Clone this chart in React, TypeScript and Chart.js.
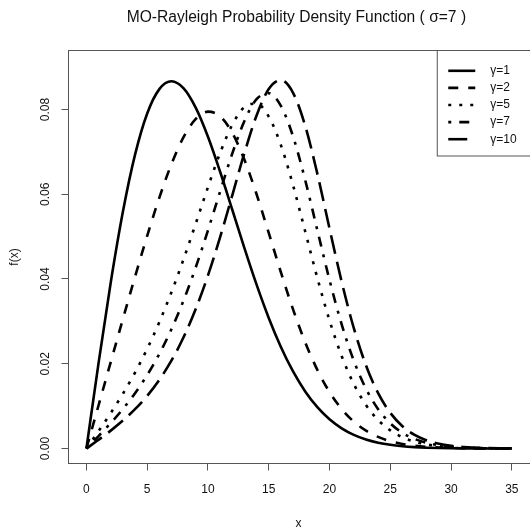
import React, { useEffect, useRef } from "react";
import { Chart, registerables } from "chart.js";

Chart.register(...registerables);

const TITLE = "MO-Rayleigh Probability Density Function ( σ=7 )";
const X_TITLE = "x";
const Y_TITLE = "f(x)";

const X_VALUES = [
  0, 1, 2, 3, 4, 5, 6, 7, 8, 9, 10, 11, 12, 13, 14, 15, 16, 17, 18, 19, 20, 21,
  22, 23, 24, 25, 26, 27, 28, 29, 30, 31, 32, 33, 34, 35,
];

const GAMMA_1 = [
  0, 0.020201, 0.039184, 0.055852, 0.069336, 0.079065, 0.084805, 0.086647,
  0.084972, 0.080369, 0.073561, 0.06531, 0.056343, 0.047295, 0.038667, 0.030817,
  0.023958, 0.018177, 0.013466, 0.009745, 0.00689, 0.004761, 0.003216, 0.002124,
  0.001372, 0.000867, 0.000536, 0.000324, 0.000192, 0.000111, 0.000063, 0.000035,
  0.000019, 0.00001, 0.000005, 0.000003,
];
const GAMMA_2 = [
  0, 0.010204, 0.0204, 0.030548, 0.040546, 0.0502, 0.059205, 0.067144, 0.073513,
  0.077779, 0.07949, 0.07838, 0.074476, 0.068133, 0.059996, 0.050875, 0.041589,
  0.032824, 0.025061, 0.018546, 0.013326, 0.009314, 0.006341, 0.00421, 0.002729,
  0.001728, 0.00107, 0.000647, 0.000384, 0.000222, 0.000126, 0.00007, 0.000038,
  0.00002, 0.00001, 0.000005,
];
const GAMMA_5 = [
  0, 0.004107, 0.008363, 0.012921, 0.017928, 0.023525, 0.02983, 0.036908,
  0.044734, 0.053127, 0.061688, 0.069752, 0.076399, 0.080583, 0.081379, 0.078315,
  0.071598, 0.06212, 0.051211, 0.040231, 0.03023, 0.021823, 0.015197, 0.010246,
  0.006709, 0.004277, 0.002658, 0.001612, 0.000957, 0.000554, 0.000314, 0.000174,
  0.000095, 0.00005, 0.000026, 0.000013,
];
const GAMMA_7 = [
  0, 0.002937, 0.006002, 0.009329, 0.01306, 0.017343, 0.022335, 0.028182,
  0.034995, 0.042803, 0.051479, 0.060649, 0.069605, 0.077294, 0.082436, 0.083844,
  0.080852, 0.073653, 0.063336, 0.05151, 0.039767, 0.029292, 0.020695, 0.014092,
  0.009289, 0.005947, 0.003707, 0.002252, 0.001339, 0.000775, 0.00044, 0.000244,
  0.000132, 0.00007, 0.000036, 0.000018,
];
const GAMMA_10 = [
  0, 0.002058, 0.004217, 0.006584, 0.009279, 0.012436, 0.01621, 0.020771, 0.0263,
  0.032959, 0.04084, 0.049885, 0.059758, 0.069728, 0.078598, 0.084827, 0.086908,
  0.083942, 0.076135, 0.064815, 0.051925, 0.039348, 0.028383, 0.01961, 0.013053,
  0.008411, 0.005264, 0.003206, 0.001908, 0.001106, 0.000628, 0.000349, 0.000189,
  0.0001, 0.000052, 0.000026,
];

const SERIES_LABELS = ["γ=1", "γ=2", "γ=5", "γ=7", "γ=10"];
const SERIES_VALUES = [GAMMA_1, GAMMA_2, GAMMA_5, GAMMA_7, GAMMA_10];
const SERIES_DASHES = [[], [10, 10], [3, 8], [3, 8, 10, 8], [19, 8]];

const X_TICKS = [0, 5, 10, 15, 20, 25, 30, 35];
const Y_TICKS = [0, 0.02, 0.04, 0.06, 0.08];

const FONT_FAMILY = '"Liberation Sans", Arial, Helvetica, sans-serif';
const TEXT_COLOR = "#111";
const AXIS_COLOR = "#555";

const decorPlugin = {
  id: "decor",
  afterDraw(chart: any) {
    const { ctx, chartArea } = chart;
    const { left, top, right, bottom } = chartArea;
    ctx.save();
    // plot box (right side lies outside the picture)
    ctx.strokeStyle = AXIS_COLOR;
    ctx.lineWidth = 1;
    ctx.setLineDash([]);
    ctx.strokeRect(left, top, right - left + 6, bottom - top);

    // title
    ctx.fillStyle = TEXT_COLOR;
    ctx.font = `15.6px ${FONT_FAMILY}`;
    ctx.textAlign = "center";
    ctx.textBaseline = "middle";
    ctx.fillText(TITLE, (left + right) / 2 - 2, 18);

    // legend
    const lx = right - 91;
    ctx.strokeStyle = AXIS_COLOR;
    ctx.lineWidth = 1;
    ctx.strokeRect(lx, top, right - lx + 6, 105.5);
    ctx.font = `12px ${FONT_FAMILY}`;
    ctx.textAlign = "left";
    ctx.textBaseline = "middle";
    chart.data.datasets.forEach((ds: any, i: number) => {
      const y = top + 20.3 + i * 17.1;
      ctx.save();
      ctx.strokeStyle = ds.borderColor;
      ctx.lineWidth = ds.borderWidth;
      ctx.lineCap = "butt";
      ctx.setLineDash(ds.borderDash || []);
      ctx.beginPath();
      ctx.moveTo(lx + 11, y);
      ctx.lineTo(lx + 38, y);
      ctx.stroke();
      ctx.restore();
      ctx.fillStyle = TEXT_COLOR;
      ctx.fillText(ds.label, lx + 53, y);
    });
    ctx.restore();
  },
};

export default function App() {
  const canvasRef = useRef<HTMLCanvasElement | null>(null);

  useEffect(() => {
    const canvas = canvasRef.current;
    if (!canvas) return;
    Chart.defaults.font.family = FONT_FAMILY;
    const datasets = SERIES_LABELS.map((label, k) => ({
      label,
      data: X_VALUES.map((x, i) => ({ x, y: SERIES_VALUES[k][i] })),
      borderColor: "#000",
      backgroundColor: "#000",
      borderWidth: 2.6,
      borderDash: SERIES_DASHES[k],
      borderCapStyle: "butt" as const,
      borderJoinStyle: "round" as const,
      pointRadius: 0,
      cubicInterpolationMode: "monotone" as const,
      fill: false,
    }));

    const chart = new Chart(canvas, {
      type: "line",
      data: { datasets },
      options: {
        responsive: false,
        animation: false,
        events: [],
        layout: { padding: { top: 50.5, right: 0, left: 0, bottom: 0 } },
        plugins: {
          legend: { display: false },
          tooltip: { enabled: false },
          title: { display: false },
        },
        scales: {
          x: {
            type: "linear",
            min: -1.475,
            max: 36.352,
            afterBuildTicks: (s: any) => {
              s.ticks = X_TICKS.map((v) => ({ value: v }));
            },
            afterFit: (s: any) => {
              s.height = 67.5;
            },
            grid: {
              drawOnChartArea: false,
              drawTicks: true,
              tickLength: 7,
              color: AXIS_COLOR,
              lineWidth: 1,
            },
            border: { display: false },
            ticks: {
              color: TEXT_COLOR,
              font: { size: 12, family: FONT_FAMILY },
              padding: 11.5,
              maxRotation: 0,
              minRotation: 0,
              autoSkip: false,
              callback: (v: any) => String(v),
            },
            title: {
              display: true,
              text: X_TITLE,
              color: TEXT_COLOR,
              font: { size: 12, family: FONT_FAMILY },
              padding: { top: 0, bottom: 0 },
            },
          },
          y: {
            type: "linear",
            min: -0.00354,
            max: 0.09392,
            afterBuildTicks: (s: any) => {
              s.ticks = Y_TICKS.map((v) => ({ value: v }));
            },
            afterFit: (s: any) => {
              s.width = 68.5;
            },
            grid: {
              drawOnChartArea: false,
              drawTicks: true,
              tickLength: 7,
              color: AXIS_COLOR,
              lineWidth: 1,
            },
            border: { display: false },
            ticks: {
              color: TEXT_COLOR,
              font: { size: 12, family: FONT_FAMILY },
              padding: 4.2,
              minRotation: 90,
              maxRotation: 90,
              crossAlign: "center",
              autoSkip: false,
              callback: (v: any) => Number(v).toFixed(2),
            },
            title: {
              display: true,
              text: Y_TITLE,
              color: TEXT_COLOR,
              font: { size: 12, family: FONT_FAMILY },
              padding: { top: 7, bottom: 0 },
            },
          },
        },
      },
      plugins: [decorPlugin],
    });

    return () => {
      chart.destroy();
    };
  }, []);

  return (
    <div
      style={{
        position: "fixed",
        left: 0,
        top: 0,
        width: 530,
        height: 531,
        overflow: "hidden",
        background: "#fff",
      }}
    >
      <canvas
        ref={canvasRef}
        width={530}
        height={531}
        style={{ display: "block", width: 530, height: 531 }}
      />
    </div>
  );
}
